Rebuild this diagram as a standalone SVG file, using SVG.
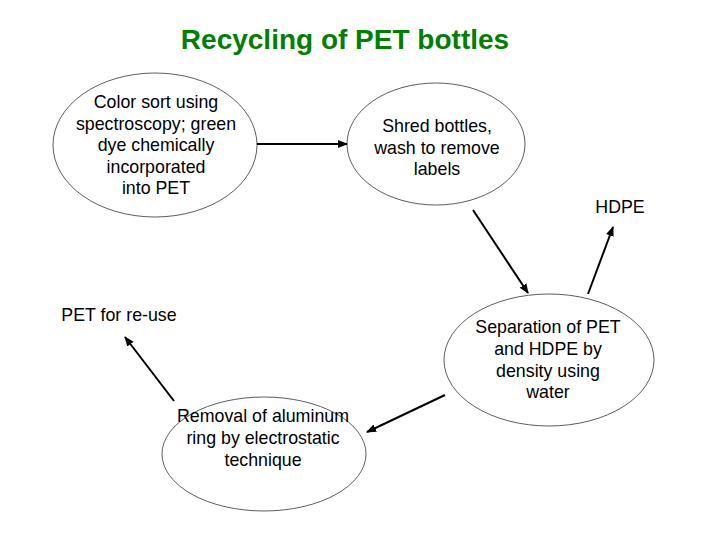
<svg xmlns="http://www.w3.org/2000/svg" width="720" height="540" viewBox="0 0 720 540">
<style>
.n{fill:#fff;stroke:#333;stroke-width:0.8}
.t{font-family:"Liberation Sans",Arial,sans-serif;font-size:17.8px;fill:#000;text-anchor:middle}
.c{stroke:#000;stroke-width:2;fill:none;marker-end:url(#ah)}
.title{font-family:"Liberation Sans",Arial,sans-serif;font-size:28px;font-weight:bold;fill:#008000;text-anchor:middle}
</style>
<defs>
<marker id="ah" viewBox="0 0 10 10" refX="9" refY="5" markerWidth="5" markerHeight="5" orient="auto" markerUnits="strokeWidth">
<path d="M0,1 L10,5 L0,9 Z" fill="#000"/>
</marker>
</defs>
<rect width="720" height="540" fill="#fff"/>
<text class="title" x="345" y="49">Recycling of PET bottles</text>
<g id="color-sort">
<ellipse class="n" cx="155" cy="145" rx="102" ry="72"/>
<text class="t" x="156" y="108">Color sort using</text>
<text class="t" x="156" y="130">spectroscopy; green</text>
<text class="t" x="156" y="151">dye chemically</text>
<text class="t" x="156" y="173">incorporated</text>
<text class="t" x="156" y="194">into PET</text>
</g>
<g id="shred">
<ellipse class="n" cx="436" cy="144" rx="89" ry="61"/>
<text class="t" x="437" y="132">Shred bottles,</text>
<text class="t" x="437" y="154">wash to remove</text>
<text class="t" x="437" y="175">labels</text>
</g>
<g id="hdpe">
<text class="t" x="620" y="213">HDPE</text>
</g>
<g id="pet-reuse">
<text class="t" x="119" y="321">PET for re-use</text>
</g>
<g id="separation">
<ellipse class="n" cx="549" cy="360" rx="105" ry="66"/>
<text class="t" x="548" y="333">Separation of PET</text>
<text class="t" x="548" y="355">and HDPE by</text>
<text class="t" x="548" y="377">density using</text>
<text class="t" x="548" y="398">water</text>
</g>
<g id="removal">
<ellipse class="n" cx="264" cy="454" rx="102" ry="57"/>
<text class="t" x="263" y="422">Removal of aluminum</text>
<text class="t" x="263" y="444">ring by electrostatic</text>
<text class="t" x="263" y="466">technique</text>
</g>
<g id="connectors">
<line class="c" x1="257" y1="144" x2="347" y2="144"/>
<line class="c" x1="473" y1="210" x2="528" y2="293"/>
<line class="c" x1="588" y1="294" x2="613" y2="227"/>
<line class="c" x1="445" y1="395" x2="367" y2="432"/>
<line class="c" x1="174" y1="401" x2="125" y2="337"/>
</g>
</svg>
